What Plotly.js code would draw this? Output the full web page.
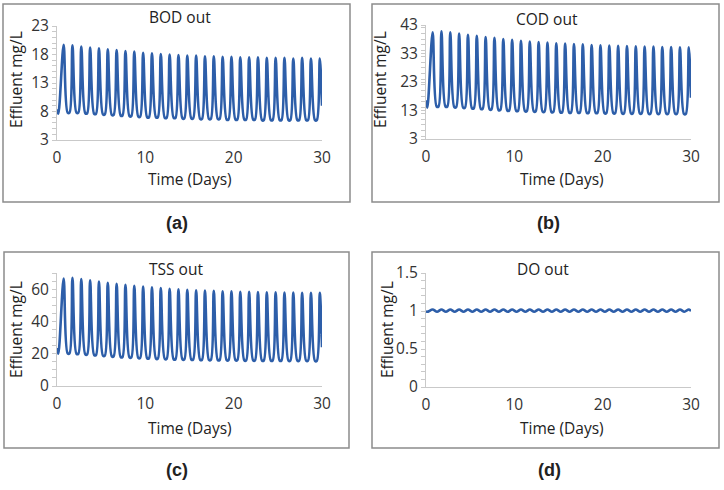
<!DOCTYPE html>
<html>
<head>
<meta charset="utf-8">
<script src="https://cdn.plot.ly/plotly-3.0.1.min.js"></script>
<style>html,body{margin:0;padding:0;background:#fff}</style>
</head>
<body>
<div id="chart" style="width:724px;height:490px"></div>
<script>
// daily peak / trough values
var bodStart = [8.4, 7.6];
var bodPeaks = [19.7,19.6,19.4,19.2,19.1,18.9,18.8,18.6,18.5,18.3,18.2,18.1,18.0,17.9,17.8,17.8,17.7,17.7,17.6,17.6,17.5,17.5,17.5,17.4,17.4,17.4,17.3,17.4,17.3,17.3];
var bodTroughs = [7.8,7.8,7.7,7.6,7.5,7.4,7.3,7.2,7.1,7.0,7.0,6.9,6.9,6.8,6.8,6.7,6.7,6.7,6.6,6.6,6.6,6.6,6.5,6.5,6.5,6.5,6.5,6.5,6.5];
var bodEnd = 9.0;

var codStart = [16.6, 14.0];
var codPeaks = [40.4,40.8,40.4,40.0,39.6,39.2,38.8,38.5,38.1,37.8,37.5,37.2,37.0,36.8,36.6,36.5,36.3,36.2,36.0,35.9,35.8,35.7,35.6,35.5,35.4,35.4,35.3,35.3,35.2,35.2];
var codTroughs = [14.4,14.4,14.2,14.0,13.8,13.6,13.4,13.2,13.0,12.9,12.8,12.7,12.6,12.5,12.4,12.3,12.3,12.2,12.2,12.1,12.1,12.0,12.0,12.0,11.9,11.9,11.9,11.9,11.8];
var codEnd = 17.5;

var tssStart = [23.5, 20.0];
var tssPeaks = [66.5,67.0,66.3,65.5,64.7,64.0,63.3,62.7,62.1,61.6,61.1,60.6,60.2,59.9,59.6,59.3,59.1,58.9,58.7,58.6,58.4,58.3,58.2,58.1,58.0,57.9,57.9,57.8,57.8,57.7];
var tssTroughs = [20.2,20.0,19.6,19.2,18.8,18.4,18.0,17.7,17.4,17.2,17.0,16.8,16.6,16.5,16.4,16.3,16.2,16.1,16.0,16.0,15.9,15.9,15.8,15.8,15.8,15.7,15.7,15.7,15.6];
var tssEnd = 24.0;

var doStart = [1.0, 0.99];
var doPeaks = [1.02,1.02,1.02,1.02,1.02,1.02,1.02,1.02,1.02,1.02,1.02,1.02,1.02,1.02,1.02,1.02,1.02,1.02,1.02,1.02,1.02,1.02,1.02,1.02,1.02,1.02,1.02,1.02,1.02,1.02];
var doTroughs = [0.99,0.99,0.99,0.99,0.99,0.99,0.99,0.99,0.99,0.99,0.99,0.99,0.99,0.99,0.99,0.99,0.99,0.99,0.99,0.99,0.99,0.99,0.99,0.99,0.99,0.99,0.99,0.99,0.99];
var doEnd = 1.0;

var xTicks = [0, 10, 20, 30];

var FONT = 'Open Sans, Noto Sans, sans-serif';
var LINE = '#2d5ea9';
var AXIS = '#c9c9c9';

// peak of day i sits at i+0.75, the flat trough spans i+1.2 .. i+1.42
function wave(start, peaks, troughs, end, flat) {
    var x = [0, 0.15], y = start.slice();
    for (var i = 0; i < peaks.length; i++) {
        x.push(i + 0.75); y.push(peaks[i]);
        if (i < troughs.length) {
            if (flat) {
                x.push(i + 1.2, i + 1.42); y.push(troughs[i], troughs[i]);
            } else {
                x.push(i + 1.25); y.push(troughs[i]);
            }
        }
    }
    x.push(30); y.push(end);
    return {x: x, y: y};
}

function px(v) { return v / 724; }
function py(v) { return 1 - v / 490; }

function trace(w, n) {
    return {
        x: w.x, y: w.y, type: 'scatter', mode: 'lines',
        line: {color: LINE, width: 2.6, shape: 'spline', smoothing: 0.9},
        xaxis: 'x' + n, yaxis: 'y' + n, hoverinfo: 'skip'
    };
}

function xAx(d, n) {
    return {
        domain: d, range: [0, 30], tickvals: xTicks, anchor: 'y' + n,
        showline: true, linecolor: AXIS, linewidth: 1, ticks: '',
        showgrid: false, zeroline: false, ticklabelstandoff: 3,
        tickfont: {family: FONT, size: 15.5, color: '#333'}
    };
}

function yAx(d, n, r, t0, dt, mdt) {
    return {
        domain: d, range: r, tick0: t0, dtick: dt, anchor: 'x' + n,
        showline: true, linecolor: AXIS, linewidth: 1,
        ticks: 'outside', ticklen: 4, tickcolor: AXIS,
        minor: {ticks: 'outside', ticklen: 4, dtick: mdt, tickcolor: AXIS},
        showgrid: false, zeroline: false,
        tickfont: {family: FONT, size: 15.5, color: '#333'}
    };
}

var data = [
    trace(wave(bodStart, bodPeaks, bodTroughs, bodEnd, true), ''),
    trace(wave(codStart, codPeaks, codTroughs, codEnd, true), '2'),
    trace(wave(tssStart, tssPeaks, tssTroughs, tssEnd, true), '3'),
    trace(wave(doStart, doPeaks, doTroughs, doEnd, false), '4')
];

var xa = [px(57), px(322)], xb = [px(426), px(691)];
var ya = [py(140), py(26)], yc = [py(386), py(273)];

function ann(text, x, y, opts) {
    var a = {text: text, x: px(x), y: py(y), xref: 'paper', yref: 'paper',
        showarrow: false, xanchor: 'center', yanchor: 'middle',
        font: {family: FONT, size: 15.5, color: '#222'}};
    for (var k in opts) a[k] = opts[k];
    return a;
}

var LBL = {family: 'Liberation Sans Narrow, Liberation Sans, sans-serif', size: 18, color: '#222'};

var annotations = [
    ann('BOD out', 180, 17), ann('COD out', 547, 19),
    ann('TSS out', 176, 269), ann('DO out', 543, 269),
    ann('Time (Days)', 190, 179), ann('Time (Days)', 562, 179),
    ann('Time (Days)', 190, 428), ann('Time (Days)', 562, 428),
    ann('Effluent mg/L', 16, 80, {textangle: -90}),
    ann('Effluent mg/L', 380, 80, {textangle: -90}),
    ann('Effluent mg/L', 16, 330, {textangle: -90}),
    ann('Effluent mg/L', 387, 330, {textangle: -90}),
    ann('<b>(a)</b>', 177, 223, {font: LBL}),
    ann('<b>(b)</b>', 548, 223, {font: LBL}),
    ann('<b>(c)</b>', 177, 470, {font: LBL}),
    ann('<b>(d)</b>', 549, 470, {font: LBL})
];

function box(x0, y0, x1, y1) {
    return {type: 'rect', xref: 'paper', yref: 'paper',
        x0: px(x0), x1: px(x1), y0: py(y0), y1: py(y1),
        line: {color: '#8c8c8c', width: 1.5}, layer: 'below'};
}

var layout = {
    width: 724, height: 490,
    margin: {l: 0, r: 0, t: 0, b: 0},
    paper_bgcolor: '#fff', plot_bgcolor: 'rgba(0,0,0,0)',
    showlegend: false,
    xaxis: xAx(xa, ''), yaxis: yAx(ya, '', [3, 23], 3, 5, 1),
    xaxis2: xAx(xb, '2'), yaxis2: yAx([py(139), py(25)], '2', [3, 43], 3, 10, 2),
    xaxis3: xAx(xa, '3'), yaxis3: yAx(yc, '3', [0, 70], 0, 20, 5),
    xaxis4: xAx(xb, '4'), yaxis4: yAx([py(387), py(273)], '4', [0, 1.5], 0, 0.5, 0.1),
    annotations: annotations,
    shapes: [box(3, 4, 350, 202), box(372, 4, 719, 202), box(4, 252, 349, 448), box(372, 252, 719, 448)]
};

Plotly.newPlot('chart', data, layout, {displayModeBar: false, staticPlot: true});
</script>
</body>
</html>
